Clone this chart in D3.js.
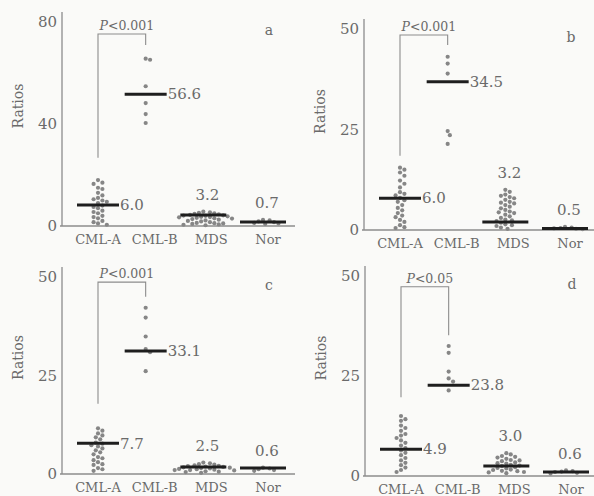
<!DOCTYPE html>
<html>
<head>
<meta charset="utf-8">
<script src="https://cdn.jsdelivr.net/npm/d3@7"></script>
<style>
  html, body { margin: 0; padding: 0; background: #fafaf8; }
  svg { display: block; }
  text { font-family: "DejaVu Serif", "Liberation Serif", serif; fill: #6a6a6a; }
</style>
</head>
<body>
<svg id="chart" width="594" height="496"></svg>
<script>
// data
const panelIds = ['a', 'b', 'c', 'd'];
const categories = ['CML-A', 'CML-B', 'MDS', 'Nor'];
const yMaxes = [80, 50, 50, 50];
const yTickVals = [[0, 40, 80], [0, 25, 50], [0, 25, 50], [0, 25, 50]];
const pLabels = ['<0.001', '<0.001', '<0.001', '<0.05'];

const cmlA = [
    [18, 17, 16.5, 15, 14.5, 13, 12, 11, 10.5, 10, 9.5, 9, 8, 7.5, 7, 6, 5.5, 5, 4, 3.5, 3, 2, 1.5, 1, 0.5],
    [15.5, 15, 14.3, 13.5, 12.3, 11.5, 10.6, 9.4, 9, 8.6, 8, 7.4, 7, 6.2, 5.5, 4.9, 4.2, 3.6, 3.2, 2.5, 2, 1.2, 0.7, 0.5],
    [11.6, 11, 10.3, 9.8, 9.3, 8.8, 8, 7.7, 7.3, 7, 6.5, 6, 5.5, 5, 4.3, 4, 3.5, 3, 2.5, 2.3, 1.5, 1.2, 0.8],
    [15, 14.2, 13.8, 12.6, 12, 11.3, 10.5, 10.1, 9.5, 8.9, 8.3, 7.6, 7, 6.4, 5.8, 5.2, 4.5, 3.9, 3.3, 2.7, 2.1, 1.5, 1]
];
const cmlB = [
    [65.6, 65.2, 54.8, 48.2, 43.9, 40.4],
    [43.1, 41.4, 38.9, 24.6, 23.6, 21.4],
    [42.2, 39.7, 34.9, 31.7, 30.9, 26.1],
    [32.5, 30.8, 26.1, 24.4, 23.6, 21.4]
];
const mds = [
    [0.3, 0.5, 0.8, 1, 1.2, 1.5, 1.8, 2, 2.2, 2.5, 2.7, 3, 3.2, 3.4, 3.6, 3.8, 4, 4.2, 4.4, 4.6, 4.8, 5, 5.2, 5.4, 5.6, 1.1, 2.9, 3.5, 4.1, 0.6],
    [10, 9.5, 8.8, 8.2, 7.9, 7.5, 7, 6.6, 6.2, 5.8, 5.4, 5, 4.6, 4.2, 3.8, 3.4, 3, 2.6, 2.2, 1.8, 1.4, 1, 0.6, 0.3, 8.5, 6.8, 4.4, 2.4, 1.2],
    [0.3, 0.5, 0.7, 0.9, 1, 1.1, 1.2, 1.3, 1.5, 1.6, 1.7, 1.8, 1.9, 2, 2.1, 2.2, 2.4, 2.5, 2.7, 2.9, 1.4, 1.0, 0.6],
    [0.7, 1, 1.3, 1.6, 1.9, 2.2, 2.5, 2.8, 3.1, 3.4, 3.7, 4, 4.3, 4.6, 5, 5.4, 5.7, 1.2, 2, 2.6, 3.2, 3.9, 4.8, 0.9, 1.5]
];
const nor = [
    [0.8, 1.0, 1.2, 1.5, 1.8, 2.2, 2.4],
    [0.2, 0.4, 0.5, 0.6, 0.8, 0.3],
    [0.8, 1, 1.2, 1.4, 1.6],
    [0.6, 0.8, 1, 1.2, 1.4, 1.1]
];
// where the median bars sit in the scan, and the numbers printed beside them
const medianLines = [[8.2, 51.7, 4.3, 1.6], [7.9, 36.9, 2.0, 0.4], [7.8, 31.2, 1.8, 1.5], [6.7, 22.7, 2.5, 1.0]];
const medianLabels = [['6.0', '56.6', '3.2', '0.7'], ['6.0', '34.5', '3.2', '0.5'], ['7.7', '33.1', '2.5', '0.6'], ['4.9', '23.8', '3.0', '0.6']];
// significance bracket: left leg bottom, top, right leg bottom
const bracketLow = [26.8, 18.5, 17.8, 19.7];
const bracketTop = [75.3, 48.5, 48.7, 47.3];
const bracketRightLow = [71, 46, 45, 35.2];

// panel frames
const frames = [
    { x0: 62, base: 226, top: 22, xEnd: 295 },
    { x0: 364, base: 230, top: 29, xEnd: 594 },
    { x0: 62, base: 474, top: 277, xEnd: 295 },
    { x0: 365, base: 476, top: 276, xEnd: 594 }
];
const colNudge = [0, -9, -8, -5];
const r = 2.1;

const svg = d3.select('#chart');

// simple dodge so the dots don't stack on top of each other
function swarm(vals, y, cx) {
    const placed = [];
    const sorted = [...vals].sort((a, b) => b - a);
    for (let v of sorted) {
        const py = y(v);
        let k = 0;
        while (true) {
            const off = k === 0 ? 0 : (k % 2 ? 1 : -1) * Math.ceil(k / 2) * r * 1.05;
            const px = cx + off;
            const hit = placed.some(p => Math.hypot(p.x - px, p.y - py) < 2 * r + 0.3);
            if (!hit) { placed.push({ x: px, y: py }); break; }
            k++;
        }
    }
    return placed;
}

panelIds.forEach((id, i) => {
    const f = frames[i];
    const g = svg.append('g');

    const y = d3.scaleLinear().domain([0, yMaxes[i]]).range([f.base, f.top]);
    const x = d3.scalePoint().domain(categories).range([f.x0 + 36, f.x0 + 206]);
    const col = c => x(c) + colNudge[categories.indexOf(c)];

    // axes
    g.append('line')
        .attr('x1', f.x0).attr('x2', f.x0)
        .attr('y1', f.base).attr('y2', f.top - 10)
        .attr('stroke', '#8c8c8c').attr('stroke-width', 1.3);
    g.append('line')
        .attr('x1', f.x0 - 2).attr('x2', f.xEnd)
        .attr('y1', f.base).attr('y2', f.base)
        .attr('stroke', '#8c8c8c').attr('stroke-width', 1.3);

    g.selectAll('.tick')
        .data(yTickVals[i])
        .enter().append('text')
        .attr('x', f.x0 - 5)
        .attr('y', d => y(d))
        .attr('dy', '0.35em')
        .attr('text-anchor', 'end')
        .style('font-size', '15px')
        .text(d => d);

    g.selectAll('.cat')
        .data(categories)
        .enter().append('text')
        .attr('x', d => x(d))
        .attr('y', f.base + 13)
        .attr('dy', '0.35em')
        .attr('text-anchor', 'middle')
        .style('font-size', '13px')
        .text(d => d);

    g.append('text')
        .attr('transform', `translate(${f.x0 - 39}, ${(f.base + f.top) / 2 - 18}) rotate(-90)`)
        .attr('text-anchor', 'middle')
        .style('font-size', '14px')
        .text('Ratios');

    g.append('text')
        .attr('x', f.x0 + 207)
        .attr('y', f.top + 8)
        .attr('dy', '0.35em')
        .attr('text-anchor', 'middle')
        .style('font-size', '14px')
        .text(id);

    // bracket
    const xl = col('CML-A'), xr = col('CML-B');
    g.append('path')
        .attr('d', `M${xl},${y(bracketLow[i])}V${y(bracketTop[i])}H${xr}V${y(bracketRightLow[i])}`)
        .attr('fill', 'none')
        .attr('stroke', '#8c8c8c')
        .attr('stroke-width', 1.1);
    const pt = g.append('text')
        .attr('x', (xl + xr) / 2 + 5)
        .attr('y', y(bracketTop[i]) - 4)
        .attr('text-anchor', 'middle')
        .style('font-size', '12.5px');
    pt.append('tspan').style('font-style', 'italic').text('P');
    pt.append('tspan').text(pLabels[i]);

    // dots + medians
    const groups = [cmlA[i], cmlB[i], mds[i], nor[i]];
    groups.forEach((vals, j) => {
        const c = categories[j];
        const cx = col(c);
        const pts = swarm(vals, y, cx);
        g.selectAll(null)
            .data(pts)
            .enter().append('circle')
            .attr('cx', d => d.x)
            .attr('cy', d => d.y)
            .attr('r', r)
            .attr('fill', '#868686');

        const half = j < 2 ? 21 : 23;
        const my = y(medianLines[i][j]);
        g.append('line')
            .attr('x1', cx - half).attr('x2', cx + half)
            .attr('y1', my).attr('y2', my)
            .attr('stroke', '#1e1e1e')
            .attr('stroke-width', 3);

        if (j < 2) {
            g.append('text')
                .attr('x', cx + half + 1)
                .attr('y', my)
                .attr('dy', '0.35em')
                .style('font-size', '15px')
                .text(medianLabels[i][j]);
        } else {
            const topY = d3.min(pts, d => d.y);
            g.append('text')
                .attr('x', cx + 4)
                .attr('y', topY - 17)
                .attr('dy', '0.35em')
                .attr('text-anchor', 'middle')
                .style('font-size', '15px')
                .text(medianLabels[i][j]);
        }
    });
});
</script>
</body>
</html>
